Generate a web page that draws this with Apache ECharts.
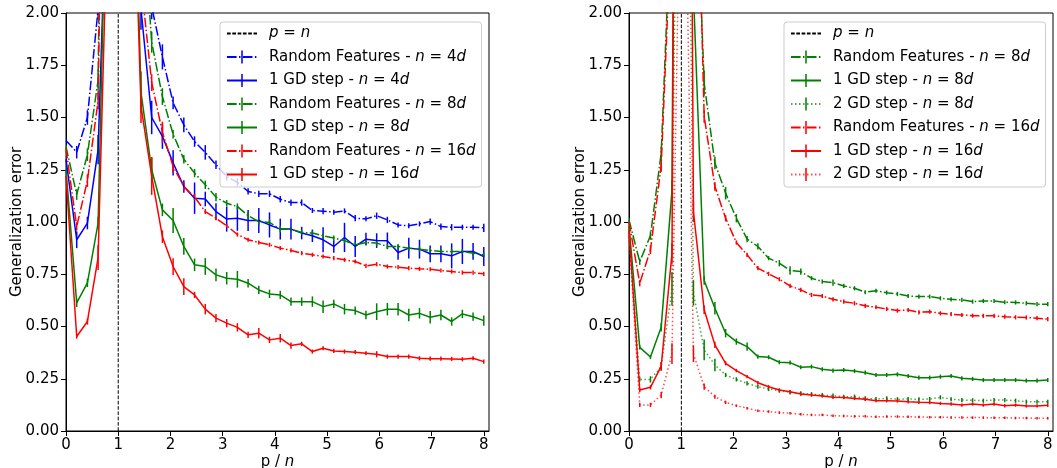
<!DOCTYPE html>
<html>
<head>
<meta charset="utf-8">
<script src="https://cdn.jsdelivr.net/npm/echarts@6/dist/echarts.min.js"></script>
<style>html,body{margin:0;padding:0;background:#fff}#c{width:1057px;height:468px}</style>
</head>
<body>
<div id="c"></div>
<script>
// p/n grid points
const X = [0, 0.205, 0.410, 0.615, 0.821, 1.026, 1.231, 1.436, 1.641, 1.846, 2.051, 2.256, 2.462, 2.667, 2.872, 3.077, 3.282, 3.487, 3.692, 3.897, 4.103, 4.308, 4.513, 4.718, 4.923, 5.128, 5.333, 5.538, 5.744, 5.949, 6.154, 6.359, 6.564, 6.769, 6.974, 7.179, 7.385, 7.590, 7.795, 8.000];
const X_TICKS = [0, 1, 2, 3, 4, 5, 6, 7, 8];
const Y_TICKS = [0, 0.25, 0.5, 0.75, 1, 1.25, 1.5, 1.75, 2];
const PEQN = [[1, 0], [1, 2]];

// ---- Left panel ----
const L_RF4 = [1.39, 1.334, 1.50, 2.02, 4.5, 20, 8, 2.6, 2.03, 1.79, 1.57, 1.465, 1.385, 1.333, 1.274, 1.218, 1.19, 1.146, 1.135, 1.135, 1.109, 1.093, 1.093, 1.055, 1.052, 1.047, 1.053, 1.018, 1.015, 1.03, 1.01, 0.986, 0.982, 0.991, 1.002, 0.978, 0.975, 0.975, 0.975, 0.972];
const L_RF4_E = [0.01, 0.03, 0.035, 0.05, 0.1, 0.3, 0.2, 0.1, 0.06, 0.06, 0.03, 0.035, 0.025, 0.035, 0.02, 0.02, 0.02, 0.015, 0.015, 0.015, 0.015, 0.015, 0.015, 0.012, 0.015, 0.012, 0.012, 0.015, 0.012, 0.015, 0.015, 0.012, 0.012, 0.012, 0.015, 0.015, 0.015, 0.012, 0.012, 0.02];
const L_GD4 = [1.30, 0.915, 0.995, 1.346, 2.94, 20, 6, 2.02, 1.50, 1.41, 1.283, 1.17, 1.114, 1.11, 1.05, 1.014, 1.018, 1.007, 1.007, 0.986, 0.966, 0.966, 0.947, 0.934, 0.915, 0.883, 0.926, 0.883, 0.918, 0.911, 0.91, 0.854, 0.875, 0.87, 0.848, 0.848, 0.838, 0.859, 0.859, 0.835];
const L_GD4_E = [0.02, 0.04, 0.03, 0.07, 0.1, 0.3, 0.2, 0.1, 0.08, 0.06, 0.06, 0.03, 0.075, 0.035, 0.04, 0.06, 0.06, 0.05, 0.06, 0.06, 0.05, 0.05, 0.03, 0.03, 0.06, 0.03, 0.07, 0.05, 0.03, 0.035, 0.04, 0.035, 0.05, 0.045, 0.04, 0.04, 0.06, 0.06, 0.04, 0.045];
const L_RF8 = [1.36, 1.131, 1.322, 1.68, 6, 20, 7, 2.6, 1.86, 1.60, 1.42, 1.30, 1.234, 1.178, 1.119, 1.09, 1.074, 1.03, 1.002, 0.998, 0.966, 0.966, 0.95, 0.947, 0.934, 0.923, 0.911, 0.891, 0.902, 0.899, 0.883, 0.883, 0.875, 0.87, 0.864, 0.859, 0.859, 0.859, 0.851, 0.843];
const L_RF8_E = [0.01, 0.025, 0.03, 0.05, 0.1, 0.3, 0.2, 0.1, 0.05, 0.04, 0.02, 0.02, 0.02, 0.02, 0.02, 0.015, 0.015, 0.015, 0.015, 0.015, 0.015, 0.012, 0.012, 0.012, 0.012, 0.012, 0.012, 0.012, 0.012, 0.012, 0.012, 0.012, 0.012, 0.012, 0.012, 0.012, 0.012, 0.012, 0.012, 0.012];
const L_GD8 = [1.25, 0.613, 0.709, 0.995, 3.2, 20, 3.5, 1.62, 1.25, 1.058, 1.007, 0.883, 0.795, 0.787, 0.747, 0.731, 0.726, 0.707, 0.675, 0.656, 0.651, 0.619, 0.619, 0.619, 0.595, 0.608, 0.583, 0.576, 0.555, 0.571, 0.583, 0.583, 0.555, 0.563, 0.544, 0.555, 0.524, 0.56, 0.547, 0.528];
const L_GD8_E = [0.02, 0.02, 0.02, 0.03, 0.1, 0.3, 0.2, 0.1, 0.06, 0.03, 0.06, 0.04, 0.03, 0.04, 0.03, 0.03, 0.04, 0.02, 0.02, 0.02, 0.02, 0.02, 0.02, 0.025, 0.03, 0.02, 0.025, 0.02, 0.02, 0.04, 0.03, 0.03, 0.03, 0.025, 0.03, 0.025, 0.02, 0.02, 0.02, 0.025];
const L_RF16 = [1.35, 0.979, 1.198, 1.58, 5, 20, 5, 2.15, 1.667, 1.43, 1.266, 1.17, 1.12, 1.05, 1.018, 0.982, 0.94, 0.915, 0.902, 0.891, 0.875, 0.864, 0.851, 0.843, 0.835, 0.827, 0.819, 0.811, 0.79, 0.798, 0.787, 0.784, 0.779, 0.776, 0.774, 0.768, 0.763, 0.758, 0.758, 0.752];
const L_RF16_E = [0.01, 0.02, 0.03, 0.04, 0.1, 0.3, 0.2, 0.1, 0.04, 0.05, 0.03, 0.02, 0.015, 0.012, 0.01, 0.01, 0.01, 0.01, 0.01, 0.01, 0.01, 0.01, 0.01, 0.01, 0.01, 0.01, 0.01, 0.01, 0.01, 0.01, 0.01, 0.01, 0.01, 0.01, 0.01, 0.01, 0.01, 0.01, 0.01, 0.01];
const L_GD16 = [1.22, 0.452, 0.524, 0.83, 2.75, 20, 3.2, 1.554, 1.22, 0.93, 0.787, 0.691, 0.651, 0.583, 0.54, 0.516, 0.496, 0.46, 0.468, 0.436, 0.444, 0.409, 0.417, 0.38, 0.396, 0.383, 0.38, 0.377, 0.372, 0.367, 0.356, 0.356, 0.356, 0.348, 0.346, 0.346, 0.345, 0.343, 0.348, 0.332];
const L_GD16_E = [0.02, 0.01, 0.015, 0.06, 0.1, 0.3, 0.2, 0.08, 0.09, 0.03, 0.04, 0.04, 0.015, 0.025, 0.02, 0.02, 0.02, 0.015, 0.025, 0.015, 0.02, 0.015, 0.01, 0.01, 0.01, 0.01, 0.01, 0.01, 0.01, 0.015, 0.01, 0.01, 0.01, 0.01, 0.01, 0.01, 0.01, 0.01, 0.01, 0.01];

// ---- Right panel ----
const R_RF8 = [1.01, 0.81, 0.935, 1.33, 2.6, 20, 3.0, 1.665, 1.282, 1.138, 1.018, 0.918, 0.883, 0.827, 0.803, 0.768, 0.763, 0.731, 0.715, 0.71, 0.694, 0.683, 0.664, 0.671, 0.662, 0.656, 0.646, 0.643, 0.643, 0.635, 0.63, 0.627, 0.619, 0.622, 0.622, 0.616, 0.615, 0.611, 0.607, 0.607];
const R_RF8_E = [0.01, 0.015, 0.02, 0.03, 0.1, 0.3, 0.2, 0.06, 0.03, 0.03, 0.02, 0.015, 0.015, 0.01, 0.015, 0.02, 0.015, 0.01, 0.01, 0.015, 0.01, 0.01, 0.01, 0.01, 0.01, 0.01, 0.01, 0.01, 0.01, 0.01, 0.01, 0.01, 0.01, 0.01, 0.01, 0.01, 0.01, 0.01, 0.01, 0.01];
const R_GD8 = [0.98, 0.40, 0.354, 0.496, 1.15, 10, 2.1, 0.72, 0.587, 0.468, 0.428, 0.404, 0.356, 0.353, 0.329, 0.327, 0.305, 0.308, 0.295, 0.289, 0.292, 0.287, 0.279, 0.268, 0.268, 0.271, 0.263, 0.255, 0.255, 0.26, 0.263, 0.252, 0.249, 0.244, 0.244, 0.244, 0.244, 0.241, 0.241, 0.244];
const R_GD8_E = [0.01, 0.01, 0.01, 0.02, 0.05, 0.3, 0.1, 0.02, 0.03, 0.02, 0.015, 0.02, 0.01, 0.01, 0.01, 0.01, 0.01, 0.01, 0.01, 0.01, 0.01, 0.01, 0.01, 0.01, 0.01, 0.01, 0.01, 0.01, 0.01, 0.01, 0.01, 0.01, 0.01, 0.01, 0.01, 0.01, 0.01, 0.01, 0.01, 0.01];
const R_GD2_8 = [0.95, 0.247, 0.247, 0.308, 0.68, 6, 0.66, 0.388, 0.316, 0.268, 0.247, 0.228, 0.212, 0.201, 0.193, 0.185, 0.18, 0.176, 0.172, 0.169, 0.164, 0.164, 0.156, 0.153, 0.156, 0.152, 0.153, 0.152, 0.153, 0.161, 0.152, 0.148, 0.147, 0.145, 0.148, 0.148, 0.145, 0.14, 0.14, 0.14];
const R_GD2_8_E = [0.01, 0.01, 0.015, 0.02, 0.08, 0.3, 0.06, 0.05, 0.03, 0.01, 0.01, 0.01, 0.01, 0.01, 0.01, 0.01, 0.01, 0.01, 0.01, 0.01, 0.01, 0.01, 0.01, 0.01, 0.01, 0.01, 0.01, 0.01, 0.01, 0.01, 0.01, 0.01, 0.01, 0.01, 0.01, 0.01, 0.01, 0.01, 0.01, 0.01];
const R_RF16 = [1.0, 0.707, 0.867, 1.27, 2.5, 20, 3.5, 1.505, 1.17, 1.018, 0.902, 0.843, 0.779, 0.752, 0.726, 0.694, 0.675, 0.651, 0.646, 0.63, 0.619, 0.611, 0.599, 0.592, 0.584, 0.576, 0.579, 0.568, 0.571, 0.563, 0.559, 0.555, 0.552, 0.551, 0.551, 0.547, 0.544, 0.543, 0.54, 0.535];
const R_RF16_E = [0.01, 0.015, 0.02, 0.03, 0.1, 0.3, 0.2, 0.03, 0.02, 0.015, 0.01, 0.01, 0.01, 0.01, 0.01, 0.01, 0.01, 0.01, 0.01, 0.01, 0.01, 0.01, 0.01, 0.01, 0.01, 0.01, 0.01, 0.01, 0.01, 0.01, 0.01, 0.01, 0.01, 0.01, 0.01, 0.01, 0.01, 0.01, 0.01, 0.01];
const R_GD16 = [0.96, 0.196, 0.209, 0.31, 0.85, 10, 1.05, 0.58, 0.412, 0.324, 0.289, 0.26, 0.231, 0.212, 0.196, 0.188, 0.177, 0.172, 0.168, 0.161, 0.16, 0.156, 0.152, 0.145, 0.145, 0.144, 0.14, 0.137, 0.136, 0.132, 0.129, 0.124, 0.129, 0.124, 0.129, 0.121, 0.124, 0.12, 0.12, 0.123];
const R_GD16_E = [0.01, 0.01, 0.01, 0.02, 0.05, 0.3, 0.05, 0.02, 0.015, 0.01, 0.008, 0.008, 0.008, 0.008, 0.008, 0.008, 0.008, 0.008, 0.008, 0.008, 0.008, 0.008, 0.008, 0.008, 0.008, 0.008, 0.008, 0.008, 0.008, 0.008, 0.008, 0.008, 0.008, 0.008, 0.008, 0.008, 0.008, 0.008, 0.008, 0.008];
const R_GD2_16 = [0.93, 0.125, 0.125, 0.172, 0.37, 3.45, 0.37, 0.212, 0.164, 0.137, 0.121, 0.109, 0.097, 0.093, 0.088, 0.085, 0.08, 0.077, 0.077, 0.073, 0.072, 0.07, 0.07, 0.068, 0.069, 0.069, 0.068, 0.067, 0.066, 0.066, 0.065, 0.065, 0.064, 0.064, 0.063, 0.063, 0.062, 0.062, 0.061, 0.061];
const R_GD2_16_E = [0.01, 0.01, 0.01, 0.015, 0.05, 0.3, 0.04, 0.015, 0.01, 0.008, 0.006, 0.006, 0.006, 0.006, 0.006, 0.006, 0.006, 0.006, 0.006, 0.006, 0.006, 0.006, 0.006, 0.006, 0.006, 0.006, 0.006, 0.006, 0.006, 0.006, 0.006, 0.006, 0.006, 0.006, 0.006, 0.006, 0.006, 0.006, 0.006, 0.006];

const N_PEQN = 'p = n';
const N_RF4 = 'Random Features - n = 4d', N_GD4 = '1 GD step - n = 4d';
const N_RF8 = 'Random Features - n = 8d', N_GD8 = '1 GD step - n = 8d', N_GD2_8 = '2 GD step - n = 8d';
const N_RF16 = 'Random Features - n = 16d', N_GD16 = '1 GD step - n = 16d', N_GD2_16 = '2 GD step - n = 16d';

const LEGEND_TEXT = {};
LEGEND_TEXT[N_PEQN] = '{i|p} = {i|n}';
[['Random Features', '4'], ['Random Features', '8'], ['Random Features', '16'],
 ['1 GD step', '4'], ['1 GD step', '8'], ['1 GD step', '16'],
 ['2 GD step', '8'], ['2 GD step', '16']].forEach(([a, k]) => {
  LEGEND_TEXT[a + ' - n = ' + k + 'd'] = a + ' - {i|n} = ' + k + '{i|d}';
});

const FONT = 'DejaVu Sans';
const FS = 15;
const BLUE = '#0000ff', GREEN = '#008000', RED = '#ff0000';
const DASHDOT = [9.6, 2.4, 1.5, 2.4], DOTTED = [1.5, 2.5], DASHED = [3.7, 1.6];
const BAR_SYMBOL = 'path://M0,0L0,0M10,10L10,10M4.4,0L5.6,0L5.6,10L4.4,10Z';
const NO_SYMBOL = 'path://M0,0L0,0M10,10L10,10';

function lineSeries(name, ys, color, dash, gi, opacity) {
  return {
    name: name, type: 'line', xAxisIndex: gi, yAxisIndex: gi,
    data: X.map((x, i) => [x, ys[i]]),
    showSymbol: false, symbol: BAR_SYMBOL, symbolSize: 12,
    lineStyle: { color: color, width: 1.5, type: dash, opacity: opacity == null ? 1 : opacity },
    itemStyle: { color: color, borderWidth: 0 },
    emphasis: { disabled: true }, clip: true, animation: false, z: 2
  };
}
function errSeries(ys, es, color, gi) {
  return {
    type: 'custom', xAxisIndex: gi, yAxisIndex: gi, clip: true, animation: false, silent: true,
    data: X.map((x, i) => [x, ys[i] - es[i], ys[i] + es[i]]),
    encode: { x: 0, y: [1, 2] },
    renderItem: function (params, api) {
      const p1 = api.coord([api.value(0), api.value(1)]);
      const p2 = api.coord([api.value(0), api.value(2)]);
      return { type: 'line', shape: { x1: p1[0], y1: p1[1], x2: p2[0], y2: p2[1] },
               style: { stroke: color, lineWidth: 1.5 } };
    }, z: 2
  };
}
function peqnSeries(gi) {
  return {
    name: N_PEQN, type: 'line', xAxisIndex: gi, yAxisIndex: gi, data: PEQN,
    showSymbol: false, symbol: NO_SYMBOL,
    lineStyle: { color: '#000', width: 1, type: DASHED },
    itemStyle: { color: 'rgba(0,0,0,0)', borderWidth: 0 },
    emphasis: { disabled: true }, animation: false, z: 1
  };
}

function xAxis(gi) {
  return {
    type: 'value', gridIndex: gi, min: 0, max: 8.1,
    name: 'p / {i|n}', nameLocation: 'middle', nameGap: 24, nameMoveOverlap: false,
    nameTextStyle: { fontFamily: FONT, fontSize: FS, color: '#000',
      rich: { i: { fontFamily: FONT, fontSize: FS, fontStyle: 'italic', color: '#000' } } },
    axisLine: { show: true, lineStyle: { color: '#000', width: 1 } },
    axisTick: { show: true, length: 5, lineStyle: { color: '#000', width: 1 }, customValues: X_TICKS },
    axisLabel: { fontFamily: FONT, fontSize: FS, color: '#000', margin: 7, customValues: X_TICKS },
    splitLine: { show: false }
  };
}
function yAxis(gi) {
  return {
    type: 'value', gridIndex: gi, min: 0, max: 2, interval: 0.25,
    name: 'Generalization error', nameLocation: 'middle', nameGap: 41, nameRotate: 90, nameMoveOverlap: false,
    nameTextStyle: { fontFamily: FONT, fontSize: FS, color: '#000' },
    axisLine: { show: true, onZero: false, lineStyle: { color: '#000', width: 1 } },
    axisTick: { show: true, length: 5, lineStyle: { color: '#000', width: 1 } },
    axisLabel: { fontFamily: FONT, fontSize: FS, color: '#000', margin: 7,
      formatter: v => Y_TICKS.indexOf(v) >= 0 ? v.toFixed(2) : '' },
    splitLine: { show: false }
  };
}
function legend(names, left) {
  return {
    data: names, orient: 'vertical', left: left, top: 22,
    itemWidth: 30, itemHeight: 16, itemGap: 8.5, padding: [4, 6, 5, 6],
    backgroundColor: 'rgba(255,255,255,0.8)', borderColor: '#cccccc', borderWidth: 1, borderRadius: 3,
    selectedMode: false,
    formatter: n => LEGEND_TEXT[n],
    textStyle: { fontFamily: FONT, fontSize: FS, color: '#000', padding: [0, 0, 0, 7],
      rich: { i: { fontFamily: FONT, fontSize: FS, fontStyle: 'italic', color: '#000' } } }
  };
}

const option = {
  backgroundColor: '#fff',
  animation: false,
  grid: [
    { left: 66, top: 13, width: 423, height: 418, show: true, borderColor: '#000', borderWidth: 1,
      backgroundColor: 'transparent', containLabel: false, outerBoundsMode: 'none' },
    { left: 629, top: 13, width: 424, height: 418, show: true, borderColor: '#000', borderWidth: 1,
      backgroundColor: 'transparent', containLabel: false, outerBoundsMode: 'none' }
  ],
  xAxis: [xAxis(0), xAxis(1)],
  yAxis: [yAxis(0), yAxis(1)],
  legend: [
    legend([N_PEQN, N_RF4, N_GD4, N_RF8, N_GD8, N_RF16, N_GD16], 220),
    legend([N_PEQN, N_RF8, N_GD8, N_GD2_8, N_RF16, N_GD16, N_GD2_16], 784)
  ],
  series: [
    peqnSeries(0),
    lineSeries(N_RF4, L_RF4, BLUE, DASHDOT, 0), errSeries(L_RF4, L_RF4_E, BLUE, 0),
    lineSeries(N_GD4, L_GD4, BLUE, 'solid', 0), errSeries(L_GD4, L_GD4_E, BLUE, 0),
    lineSeries(N_RF8, L_RF8, GREEN, DASHDOT, 0), errSeries(L_RF8, L_RF8_E, GREEN, 0),
    lineSeries(N_GD8, L_GD8, GREEN, 'solid', 0), errSeries(L_GD8, L_GD8_E, GREEN, 0),
    lineSeries(N_RF16, L_RF16, RED, DASHDOT, 0), errSeries(L_RF16, L_RF16_E, RED, 0),
    lineSeries(N_GD16, L_GD16, RED, 'solid', 0), errSeries(L_GD16, L_GD16_E, RED, 0),

    peqnSeries(1),
    lineSeries(N_RF8, R_RF8, GREEN, DASHDOT, 1), errSeries(R_RF8, R_RF8_E, GREEN, 1),
    lineSeries(N_GD8, R_GD8, GREEN, 'solid', 1), errSeries(R_GD8, R_GD8_E, GREEN, 1),
    lineSeries(N_GD2_8, R_GD2_8, GREEN, DOTTED, 1, 0.7), errSeries(R_GD2_8, R_GD2_8_E, GREEN, 1),
    lineSeries(N_RF16, R_RF16, RED, DASHDOT, 1), errSeries(R_RF16, R_RF16_E, RED, 1),
    lineSeries(N_GD16, R_GD16, RED, 'solid', 1), errSeries(R_GD16, R_GD16_E, RED, 1),
    lineSeries(N_GD2_16, R_GD2_16, RED, DOTTED, 1, 0.7), errSeries(R_GD2_16, R_GD2_16_E, RED, 1)
  ]
};
const chart = echarts.init(document.getElementById('c'), null, { renderer: 'canvas' });
chart.setOption(option);
</script>
</body>
</html>
